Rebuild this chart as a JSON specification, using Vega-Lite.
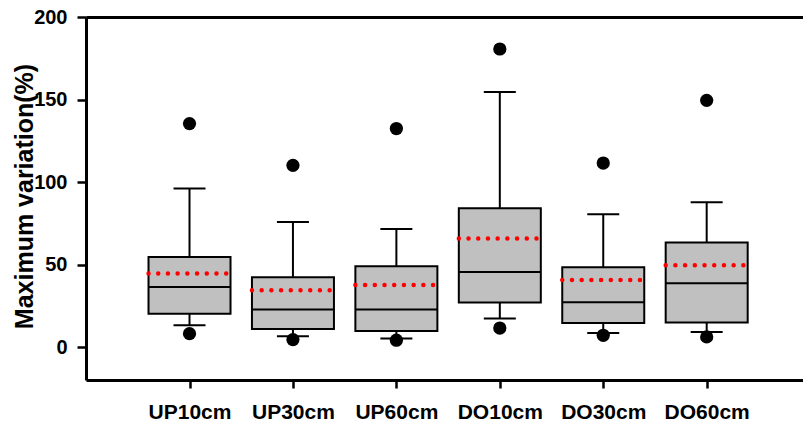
{
  "$schema": "https://vega.github.io/schema/vega-lite/v6.json",
  "width": 717,
  "height": 363,
  "autosize": {"type": "none"},
  "padding": {"left": 86, "top": 17, "right": 0, "bottom": 48},
  "background": "white",
  "datasets": {
    "stats": [
      {"site": "UP10cm", "lw": 13.2, "q1": 20.2, "med": 36.4, "q3": 54.5, "uw": 96.0, "mean": 44.5},
      {"site": "UP30cm", "lw": 6.5, "q1": 10.9, "med": 22.7, "q3": 42.2, "uw": 75.8, "mean": 34.4},
      {"site": "UP60cm", "lw": 5.1, "q1": 9.7, "med": 22.7, "q3": 48.9, "uw": 71.5, "mean": 37.6},
      {"site": "DO10cm", "lw": 17.2, "q1": 26.9, "med": 45.5, "q3": 84.1, "uw": 154.5, "mean": 65.7},
      {"site": "DO30cm", "lw": 8.5, "q1": 14.5, "med": 27.1, "q3": 48.3, "uw": 80.4, "mean": 40.6},
      {"site": "DO60cm", "lw": 9.1, "q1": 14.8, "med": 38.6, "q3": 63.3, "uw": 87.7, "mean": 49.5}
    ],
    "outliers": [
      {"site": "UP10cm", "value": 135.4}, {"site": "UP10cm", "value": 8.1},
      {"site": "UP30cm", "value": 110.1}, {"site": "UP30cm", "value": 4.5},
      {"site": "UP60cm", "value": 132.4}, {"site": "UP60cm", "value": 4.1},
      {"site": "DO10cm", "value": 180.6}, {"site": "DO10cm", "value": 11.5},
      {"site": "DO30cm", "value": 111.5}, {"site": "DO30cm", "value": 7.1},
      {"site": "DO60cm", "value": 149.5}, {"site": "DO60cm", "value": 6.1}
    ]
  },
  "config": {
    "view": {"stroke": null},
    "axis": {
      "domainColor": "black", "domainWidth": 3, "tickColor": "black", "tickWidth": 2.5,
      "labelColor": "black", "labelFont": "Liberation Sans", "labelFontWeight": "bold",
      "titleColor": "black", "titleFont": "Liberation Sans", "titleFontWeight": "bold",
      "grid": false
    },
    "axisY": {
      "tickSize": 9, "labelPadding": 10, "labelFontSize": 20,
      "titleFontSize": 25, "titleX": -54, "titleY": 179, "titleBaseline": "alphabetic", "titleAngle": -90
    }
  },
  "resolve": {"axis": {"x": "independent"}},
  "layer": [
    {
      "data": {"name": "stats"},
      "mark": {"type": "rule", "color": "black", "strokeWidth": 2},
      "encoding": {
        "x": {"field": "site", "type": "nominal", "sort": null,
              "scale": {"type": "point", "padding": 0.966, "align": 0.518},
              "axis": {"orient": "bottom", "title": null, "labelAngle": 0, "tickSize": 8, "labelPadding": 13, "labelFontSize": 21}},
        "y": {"field": "lw", "type": "quantitative", "title": "Maximum variation(%)",
              "scale": {"domain": [-20, 200], "nice": false, "zero": false},
              "axis": {"values": [0, 50, 100, 150, 200]}},
        "y2": {"field": "uw"}
      }
    },
    {
      "data": {"name": "stats"},
      "mark": {"type": "tick", "color": "black", "opacity": 1, "size": 32, "thickness": 2},
      "encoding": {
        "x": {"field": "site", "type": "nominal", "sort": null,
              "axis": {"orient": "top", "title": null, "labels": false, "ticks": false, "domain": true}},
        "y": {"field": "lw", "type": "quantitative", "title": "Maximum variation(%)", "axis": {"values": [0, 50, 100, 150, 200]}}
      }
    },
    {
      "data": {"name": "stats"},
      "mark": {"type": "tick", "color": "black", "opacity": 1, "size": 32, "thickness": 2},
      "encoding": {
        "x": {"field": "site", "type": "nominal", "sort": null, "axis": null},
        "y": {"field": "uw", "type": "quantitative", "title": "Maximum variation(%)", "axis": {"values": [0, 50, 100, 150, 200]}}
      }
    },
    {
      "data": {"name": "stats"},
      "mark": {"type": "bar", "fill": "#c0c0c0", "stroke": "black", "strokeWidth": 2, "size": 82},
      "encoding": {
        "x": {"field": "site", "type": "nominal", "sort": null, "axis": null},
        "y": {"field": "q1", "type": "quantitative", "title": "Maximum variation(%)", "axis": {"values": [0, 50, 100, 150, 200]}},
        "y2": {"field": "q3"}
      }
    },
    {
      "data": {"name": "stats"},
      "mark": {"type": "tick", "color": "black", "opacity": 1, "size": 82, "thickness": 2},
      "encoding": {
        "x": {"field": "site", "type": "nominal", "sort": null, "axis": null},
        "y": {"field": "med", "type": "quantitative", "title": "Maximum variation(%)", "axis": {"values": [0, 50, 100, 150, 200]}}
      }
    },
    {
      "data": {"name": "stats"},
      "mark": {"type": "rule", "color": "#ff0000", "strokeWidth": 4.5, "strokeDash": [0.01, 9.7], "strokeCap": "round", "xOffset": -41, "x2Offset": 37},
      "encoding": {
        "x": {"field": "site", "type": "nominal", "sort": null, "axis": null},
        "x2": {"field": "site"},
        "y": {"field": "mean", "type": "quantitative", "title": "Maximum variation(%)", "axis": {"values": [0, 50, 100, 150, 200]}}
      }
    },
    {
      "data": {"name": "outliers"},
      "mark": {"type": "circle", "color": "black", "opacity": 1, "size": 175},
      "encoding": {
        "x": {"field": "site", "type": "nominal", "sort": null, "axis": null},
        "y": {"field": "value", "type": "quantitative", "title": "Maximum variation(%)", "axis": {"values": [0, 50, 100, 150, 200]}}
      }
    }
  ]
}
